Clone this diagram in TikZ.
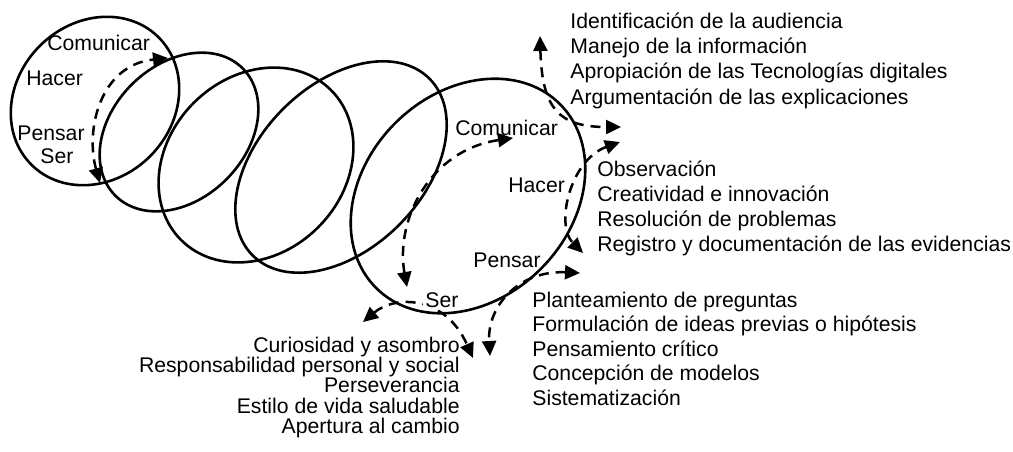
\documentclass[tikz,border=0pt]{standalone}
\usepackage{fontspec}
\setmainfont{Liberation Sans}
\usepackage{tikz}
\usetikzlibrary{arrows.meta,calc,positioning,shapes}
\tikzset{
  lab_n/.style = {inner sep=0pt, text=my_black, font=\fontsize{10.6}{12.7}\selectfont},
  lab_b/.style = {lab_n, anchor=base west},
  list_l/.style = {lab_n, align=left, anchor=north west},
  list_r/.style = {lab_n, align=right, anchor=north east, font=\fontsize{10.6}{10.15}\selectfont}
}
\definecolor{my_black}{RGB}{0, 0, 0}

\begin{document}
\begin{tikzpicture}[x=0.5pt, y=-0.5pt, >={Triangle[length=7.5pt,width=7pt]},
        ring/.style={draw=my_black, line width=1.3pt},
        dash_arc/.style={<->, draw=my_black, line width=1.25pt, dash pattern=on 5pt off 3.5pt}]
  \useasboundingbox (0,0) rectangle (1013,451);
  % the coil of rings
  \coordinate (c1) at (95,101);
  \coordinate (c2) at (179,132);
  \coordinate (c3) at (256,165);
  \coordinate (c4) at (341,167);
  \coordinate (c5) at (468,196);
  \draw[ring, rotate around={45:(c1)}] (c1) ellipse [x radius=90, y radius=78];
  \draw[ring, rotate around={45:(c2)}] (c2) ellipse [x radius=90, y radius=67];
  \draw[ring, rotate around={45:(c3)}] (c3) ellipse [x radius=106, y radius=88];
  \draw[ring, rotate around={45:(c4)}] (c4) ellipse [x radius=125, y radius=82];
  \draw[ring, rotate around={45:(c5)}] (c5) ellipse [x radius=130, y radius=103];

  % small ring labels
  \node[lab_b] (com1) at (47,50) {Comunicar};
  \node[lab_b] (hac1) at (26,85) {Hacer};
  \node[lab_b] (pen1) at (17,140) {Pensar};
  \node[lab_b] (ser1) at (40,163) {Ser};
  \coordinate (l_top) at (168,58);
  \coordinate (l_bot) at (100,183);
  \draw[dash_arc] (l_bot) .. controls (85,130) and (100,65) .. (l_top);

  % big ring arrows
  \coordinate (b_right) at (513,138);
  \coordinate (b_down) at (407,287);
  \draw[dash_arc] (b_down) .. controls (395,220) and (430,150) .. (b_right);
  \coordinate (com_up) at (540,36);
  \coordinate (com_out) at (621,127);
  \draw[dash_arc] (com_up) .. controls (542,110) and (560,127) .. (com_out);
  \coordinate (hac_up) at (620,142);
  \coordinate (hac_down) at (583,253);
  \draw[dash_arc] (hac_up) .. controls (570,160) and (555,225) .. (hac_down);
  \coordinate (pen_out) at (580,273);
  \coordinate (pen_down) at (490,356);
  \draw[dash_arc] (pen_out) .. controls (520,270) and (487,305) .. (pen_down);
  \coordinate (ser_left) at (363,322);
  \coordinate (ser_right) at (473,358);
  \draw[dash_arc] (ser_left) .. controls (395,295) and (445,295) .. (ser_right);

  % big ring labels
  \node[lab_b] (com5) at (455,135) {Comunicar};
  \node[lab_b] (hac5) at (508,192) {Hacer};
  \node[lab_b] (pen5) at (473,267) {Pensar};
  \node[lab_b, fill=white, inner sep=1pt] (ser5) at (423,307) {Ser};

  % lists
  \node[list_l] (com_list) at (570,12) {Identificación de la audiencia\\
    Manejo de la información\\
    Apropiación de las Tecnologías digitales\\
    Argumentación de las explicaciones};
  \node[list_l, font=\fontsize{10.6}{12.5}\selectfont] (hac_list) at (597,160.5) {Observación\\
    Creatividad e innovación\\
    Resolución de problemas\\
    Registro y documentación de las evidencias};
  \node[list_l, font=\fontsize{10.6}{12.25}\selectfont] (pen_list) at (532,291.5) {Planteamiento de preguntas\\
    Formulación de ideas previas o hipótesis\\
    Pensamiento crítico\\
    Concepción de modelos\\
    Sistematización};
  \node[list_r] (ser_list) at (460,336.5) {Curiosidad y asombro\\
    Responsabilidad personal y social\\
    Perseverancia\\
    Estilo de vida saludable\\
    Apertura al cambio};
\end{tikzpicture}
\end{document}
